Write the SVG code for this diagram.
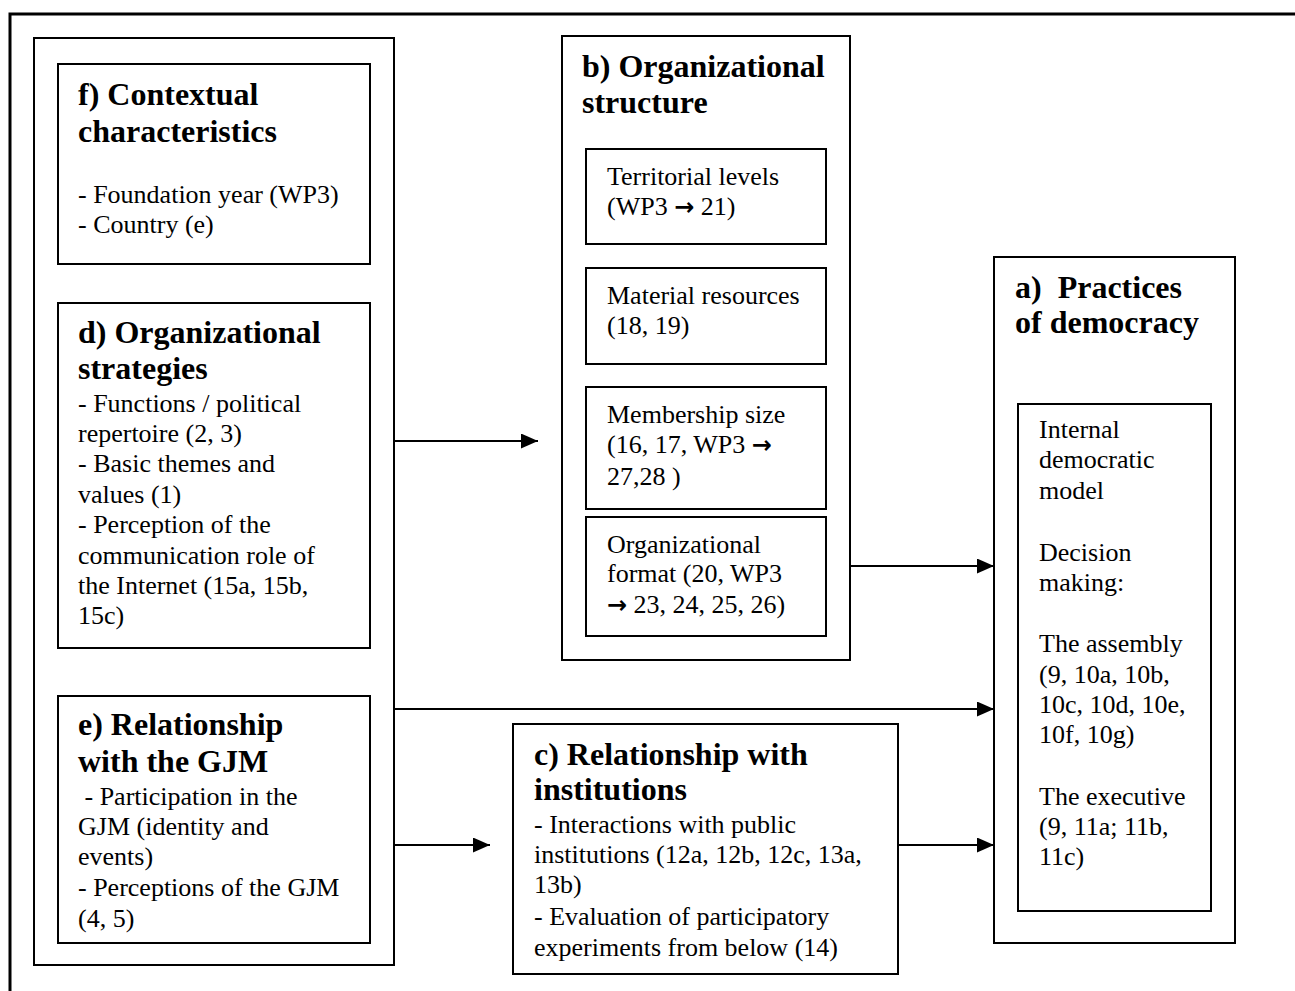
<svg xmlns="http://www.w3.org/2000/svg" width="1295" height="991" viewBox="0 0 1295 991">
<defs>
<style>
.box{fill:#fff;stroke:#000;stroke-width:2}
.frame{fill:#fff;stroke:#000;stroke-width:3}
.h{font-family:"Liberation Serif","Times New Roman",serif;font-size:32px;font-weight:bold;fill:#000}
.t{font-family:"Liberation Serif","Times New Roman",serif;font-size:26px;fill:#000}
.ar{font-family:"DejaVu Sans",sans-serif;font-weight:bold;font-size:24px}
.c{stroke:#000;stroke-width:2;fill:none;marker-end:url(#ah)}
</style>
<marker id="ah" markerUnits="userSpaceOnUse" markerWidth="17" markerHeight="15" refX="17" refY="7.5" orient="auto">
<path d="M0,0 L17,7.5 L0,15 Z" fill="#000"/>
</marker>
</defs>
<rect class="frame" x="10" y="14" width="1300" height="1000"/>
<g id="left-group"><rect class="box" x="34" y="38" width="360" height="927"/></g>
<g id="f-contextual">
<rect class="box" x="58" y="64" width="312" height="200"/>
<text class="h" x="78" y="105">f) Contextual</text>
<text class="h" x="78" y="142">characteristics</text>
<text class="t" x="78" y="203">- Foundation year (WP3)</text>
<text class="t" x="78" y="233">- Country (e)</text>
</g>
<g id="d-strategies">
<rect class="box" x="58" y="303" width="312" height="345"/>
<text class="h" x="78" y="343">d) Organizational</text>
<text class="h" x="78" y="379">strategies</text>
<text class="t" x="78" y="412">- Functions / political</text>
<text class="t" x="78" y="442">repertoire (2, 3)</text>
<text class="t" x="78" y="472">- Basic themes and</text>
<text class="t" x="78" y="503">values (1)</text>
<text class="t" x="78" y="533">- Perception of the</text>
<text class="t" x="78" y="564">communication role of</text>
<text class="t" x="78" y="594">the Internet (15a, 15b,</text>
<text class="t" x="78" y="624">15c)</text>
</g>
<g id="e-gjm">
<rect class="box" x="58" y="696" width="312" height="247"/>
<text class="h" x="78" y="735">e) Relationship</text>
<text class="h" x="78" y="772">with the GJM</text>
<text class="t" x="78" y="805" xml:space="preserve"> - Participation in the</text>
<text class="t" x="78" y="835">GJM (identity and</text>
<text class="t" x="78" y="865">events)</text>
<text class="t" x="78" y="896">- Perceptions of the GJM</text>
<text class="t" x="78" y="927">(4, 5)</text>
</g>
<g id="b-structure">
<rect class="box" x="562" y="36" width="288" height="624"/>
<text class="h" x="582" y="77">b) Organizational</text>
<text class="h" x="582" y="113">structure</text>
</g>
<g id="b1-territorial">
<rect class="box" x="586" y="149" width="240" height="95"/>
<text class="t" x="607" y="185">Territorial levels</text>
<text class="t" x="607" y="215">(WP3 <tspan class="ar">→</tspan> 21)</text>
</g>
<g id="b2-material">
<rect class="box" x="586" y="268" width="240" height="96"/>
<text class="t" x="607" y="304">Material resources</text>
<text class="t" x="607" y="334">(18, 19)</text>
</g>
<g id="b3-membership">
<rect class="box" x="586" y="387" width="240" height="122"/>
<text class="t" x="607" y="423">Membership size</text>
<text class="t" x="607" y="453">(16, 17, WP3 <tspan class="ar">→</tspan></text>
<text class="t" x="607" y="485">27,28 )</text>
</g>
<g id="b4-format">
<rect class="box" x="586" y="517" width="240" height="119"/>
<text class="t" x="607" y="553">Organizational</text>
<text class="t" x="607" y="582">format (20, WP3</text>
<text class="t" x="607" y="613"><tspan class="ar">→</tspan> 23, 24, 25, 26)</text>
</g>
<g id="c-institutions">
<rect class="box" x="513" y="724" width="385" height="250"/>
<text class="h" x="534" y="765">c) Relationship with</text>
<text class="h" x="534" y="800">institutions</text>
<text class="t" x="534" y="833">- Interactions with public</text>
<text class="t" x="534" y="863">institutions (12a, 12b, 12c, 13a,</text>
<text class="t" x="534" y="893">13b)</text>
<text class="t" x="534" y="925">- Evaluation of participatory</text>
<text class="t" x="534" y="956">experiments from below (14)</text>
</g>
<g id="a-practices">
<rect class="box" x="994" y="257" width="241" height="686"/>
<text class="h" x="1015" y="298" xml:space="preserve">a)  Practices</text>
<text class="h" x="1015" y="333">of democracy</text>
</g>
<g id="a1-model">
<rect class="box" x="1018" y="404" width="193" height="507"/>
<text class="t" x="1039" y="438">Internal</text>
<text class="t" x="1039" y="468">democratic</text>
<text class="t" x="1039" y="499">model</text>
<text class="t" x="1039" y="561">Decision</text>
<text class="t" x="1039" y="591">making:</text>
<text class="t" x="1039" y="652">The assembly</text>
<text class="t" x="1039" y="683">(9, 10a, 10b,</text>
<text class="t" x="1039" y="713">10c, 10d, 10e,</text>
<text class="t" x="1039" y="743">10f, 10g)</text>
<text class="t" x="1039" y="805">The executive</text>
<text class="t" x="1039" y="835">(9, 11a; 11b,</text>
<text class="t" x="1039" y="865">11c)</text>
</g>
<g id="connectors">
<line class="c" x1="394" y1="441" x2="538" y2="441"/>
<line class="c" x1="850" y1="566" x2="994" y2="566"/>
<line class="c" x1="394" y1="709" x2="994" y2="709"/>
<line class="c" x1="394" y1="845" x2="490" y2="845"/>
<line class="c" x1="898" y1="845" x2="994" y2="845"/>
</g>
</svg>
